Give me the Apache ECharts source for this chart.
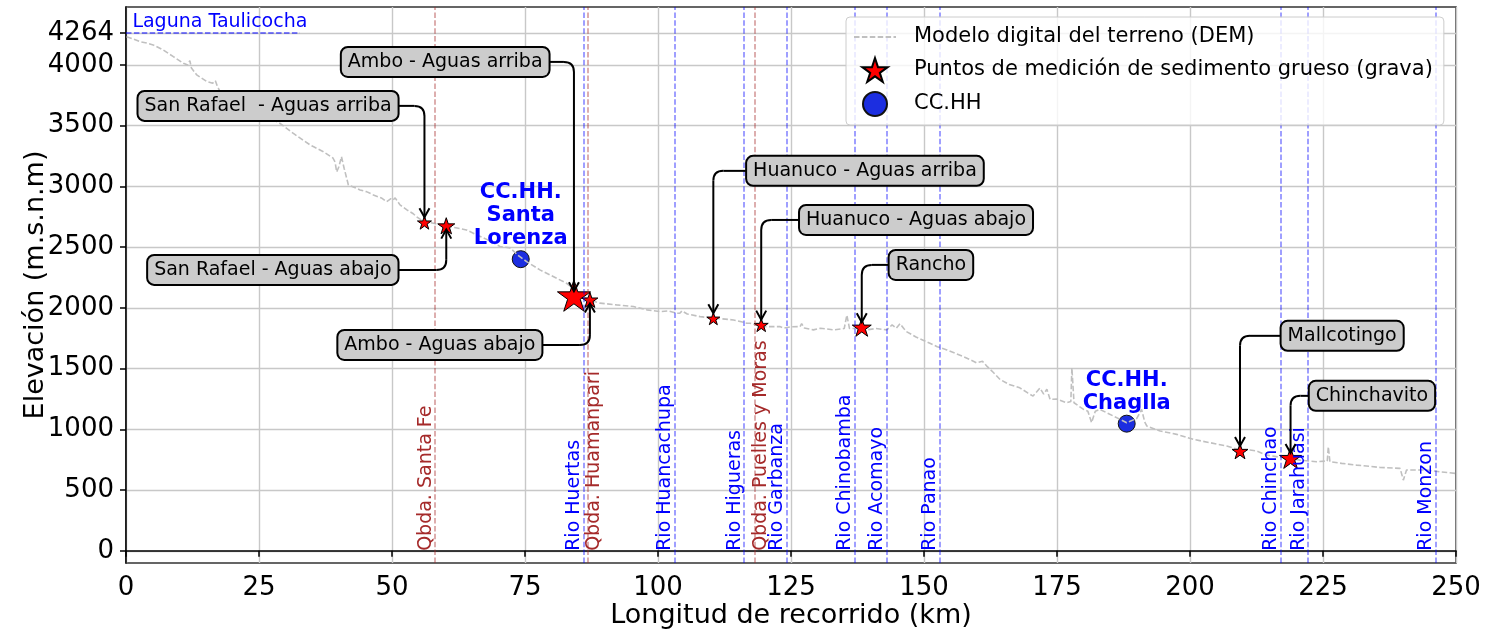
<!DOCTYPE html>
<html><head><meta charset="utf-8">
<script src="https://cdn.jsdelivr.net/npm/echarts@6/dist/echarts.min.js"></script>
<style>html,body{margin:0;padding:0;background:#fff}#c{width:1489px;height:633px}</style>
</head><body><div id="c"></div>
<script>
// ---------------- DATA ----------------
const demKm = [0.1,1.3,2.6,3.9,5.1,7.0,8.9,10.8,11.6,12.0,12.3,13.3,15.2,16.3,16.8,17.2,17.7,20.0,23.0,26.0,28.9,31.4,33.0,34.6,35.2,37.1,38.9,39.3,39.6,40.0,40.5,41.0,41.8,42.5,44.0,45.2,46.5,48.0,49.0,49.8,50.2,50.6,51.5,52.8,54.0,54.6,55.9,57.8,60.0,62.0,64.0,65.9,68.0,70.3,72.2,73.5,75.3,77.8,80.3,82.8,85.0,87.0,89.1,92.2,95.4,97.9,100.4,102.0,103.5,104.1,104.5,105.5,107.9,110.4,112.0,114.2,116.7,117.3,119.2,120.4,122.9,123.6,125.0,126.7,127.0,127.5,129.2,130.5,133.0,135.0,135.5,136.0,137.5,139.2,141.0,143.0,144.0,144.8,145.5,146.2,146.7,148.5,151.1,152.5,154.3,157.4,159.9,161.0,161.8,163.0,164.3,166.0,168.0,169.5,170.5,171.8,172.5,173.1,173.7,175.0,176.8,177.6,177.8,178.0,178.2,180.0,180.8,181.5,182.2,183.1,185.6,188.1,190.0,190.9,191.5,191.9,194.4,197.5,200.6,203.8,206.9,209.4,211.3,212.5,214.4,217.0,220.7,223.8,225.8,226.0,226.3,228.5,231.3,235.7,239.5,240.1,240.7,244.5,247.0,250.0];
const demElev = [4233,4215,4192,4180,4165,4123,4068,4014,4000,4035,3975,3918,3863,3850,3870,3820,3780,3720,3650,3585,3520,3438,3390,3342,3328,3286,3234,3200,3120,3160,3245,3150,3012,3000,2971,2957,2930,2905,2875,2900,2889,2905,2848,2807,2775,2751,2712,2697,2675,2660,2642,2601,2560,2505,2494,2440,2381,2313,2258,2203,2130,2065,2039,2025,2011,1984,1970,1975,1956,1956,1975,1950,1928,1915,1910,1901,1874,1874,1852,1846,1846,1833,1845,1846,1870,1835,1819,1833,1819,1830,1940,1830,1830,1819,1830,1819,1860,1833,1870,1830,1805,1760,1709,1680,1654,1599,1548,1560,1521,1470,1411,1370,1342,1300,1274,1340,1290,1330,1247,1250,1219,1230,1507,1500,1219,1164,1150,1055,1150,1164,1110,1055,1090,1164,1060,1027,986,959,918,890,863,830,830,822,788,770,747,734,740,857,734,720,706,687,679,582,665,665,651,637];

const pointNames = ['San Rafael  - Aguas arriba','San Rafael - Aguas abajo','Ambo - Aguas arriba','Ambo - Aguas abajo','Huanuco - Aguas arriba','Huanuco - Aguas abajo','Rancho','Mallcotingo','Chinchavito'];
const pointKm   = [56.1, 60.2, 84.2, 87.2, 110.4, 119.4, 138.3, 209.4, 218.9];
const pointElev = [2697, 2669, 2088, 2060, 1907, 1854, 1833, 814, 756];

const hydroNames = ['CC.HH.\nSanta\nLorenza', 'CC.HH.\nChaglla'];
const hydroKm   = [74.2, 188.1];
const hydroElev = [2401, 1047];

const riverNames = ['Rio Huertas','Rio Huancachupa','Rio Higueras','Rio Garbanza','Rio Chinobamba','Rio Acomayo','Rio Panao','Rio Chinchao','Rio Jarahuasi','Rio Monzon'];
const riverKm    = [86.1, 103.2, 116.2, 124.2, 137.0, 143.0, 153.0, 217.1, 222.2, 246.2];
const qbdaNames  = ['Qbda. Santa Fe','Qbda. Huamanpari','Qbda. Puelles y Moras'];
const qbdaKm     = [58.1, 86.8, 118.1];

const lagunaName = 'Laguna Taulicocha';
const lagunaElev = 4264;
const lagunaKm   = [0, 32.7];

const xTicks = [0,25,50,75,100,125,150,175,200,225,250];
const yTicks = [0,500,1000,1500,2000,2500,3000,3500,4000,4264];

const seriesNames = ['Modelo digital del terreno (DEM)','Puntos de medición de sedimento grueso (grava)','CC.HH'];
const axisNames = ['Longitud de recorrido (km)','Elevación (m.s.n.m)'];

// ---------------- LAYOUT / STYLE ----------------
const starSizes = [14, 17, 33, 16, 13, 14, 19, 16, 22];
const annotPos = [[26.7,3663],[27.6,2313],[60.0,4025],[59.0,1695],[138.9,3128],[148.5,2724],[151.3,2354],[228.6,1770],[234.2,1276]];
const qbdaSide = ['left','right','right'];
const hydroLabelOffset = 75;
const lagunaLabelKm = 1.2;
const FONT = '"DejaVu Sans", "Liberation Sans", sans-serif';
const STAR = 'path://M100,0 L122.45,69.1 L195.1,69.1 L136.3,111.8 L158.8,180.9 L100,138.2 L41.2,180.9 L63.7,111.8 L4.9,69.1 L77.55,69.1 Z';

const demData = demKm.map((k,i)=>[k, demElev[i]]);
const starData = pointKm.map((k,i)=>({value:[k, pointElev[i]], symbolSize: starSizes[i], symbolOffset:[0, -0.05*starSizes[i]]}));
const hydroData = hydroKm.map((k,i)=>[k, hydroElev[i]]);

const vLines = [];
riverKm.forEach(k=>vLines.push({xAxis:k, lineStyle:{color:'rgba(0,0,255,0.5)'}}));
qbdaKm.forEach(k=>vLines.push({xAxis:k, lineStyle:{color:'rgba(165,42,42,0.5)'}}));

const option = {
  animation: false,
  textStyle: {fontFamily: FONT},
  grid: {left:126, right:33, top:7, bottom:70, outerBoundsMode:'none', containLabel:false,
         show:true, borderColor:'#333', borderWidth:1.5, backgroundColor:'transparent'},
  legend: {
    data: [
      {name: seriesNames[0], itemStyle:{opacity:0}},
      {name: seriesNames[1]},
      {name: seriesNames[2]}
    ],
    orient:'vertical', left:846, top:17,
    padding:[8,11,8,7], itemGap:8, itemWidth:42, itemHeight:24,
    backgroundColor:'rgba(255,255,255,0.8)', borderColor:'#cccccc', borderWidth:1, borderRadius:4,
    textStyle:{fontSize:21, color:'#000', fontFamily:FONT, lineHeight:24, padding:[0,0,0,13]},
    z: 20
  },
  xAxis: {
    type:'value', min:xTicks[0], max:xTicks[xTicks.length-1], interval:25,
    name: axisNames[0], nameLocation:'middle', nameGap:39, nameMoveOverlap:false,
    nameTextStyle:{fontSize:27, color:'#000', fontFamily:FONT},
    axisLine:{show:true, lineStyle:{color:'#000', width:1.5}},
    axisTick:{show:true, length:6, lineStyle:{color:'#000', width:1.5}},
    axisLabel:{fontSize:26, color:'#000', margin:12, fontFamily:FONT, formatter:(v)=>String(v)},
    splitLine:{show:true, lineStyle:{color:'#c8c8c8', width:1.4}}
  },
  yAxis: {
    type:'value', min:-100, max:4477,
    name: axisNames[1], nameLocation:'middle', nameGap:77, nameMoveOverlap:false,
    nameTextStyle:{fontSize:27, color:'#000', fontFamily:FONT},
    axisLine:{show:true, lineStyle:{color:'#000', width:1.5}},
    axisTick:{show:true, length:6, lineStyle:{color:'#000', width:1.5}, customValues: yTicks},
    axisLabel:{fontSize:26, color:'#000', margin:12, fontFamily:FONT, customValues: yTicks, formatter:(v)=>String(v)},
    splitLine:{show:true, lineStyle:{color:'#c8c8c8', width:1.4}}
  },
  series: [
    {
      name:'vlines', type:'line', data:[], z:1, silent:true,
      markLine:{
        silent:true, symbol:['none','none'], label:{show:false}, animation:false,
        lineStyle:{type:[5.5,2.4], width:1.5},
        data: vLines.concat([[
          {coord:[lagunaKm[0], lagunaElev], lineStyle:{color:'rgba(0,0,255,0.65)'}},
          {coord:[lagunaKm[1], lagunaElev]}
        ]])
      }
    },
    {
      name: seriesNames[2], type:'scatter', data: hydroData, z:2,
      symbol:'circle', symbolSize:17,
      itemStyle:{color:'#1c2ee0', borderColor:'#111', borderWidth:1, opacity:1}
    },
    {
      name: seriesNames[0], type:'line', data: demData, z:3,
      showSymbol:false, symbol:'none',
      lineStyle:{color:'#c0c0c0', width:1.6, type:[5.5,2.4]},
      itemStyle:{color:'#c0c0c0'}
    },
    {
      name: seriesNames[1], type:'scatter', data: starData, z:4,
      symbol: STAR, symbolKeepAspect:true,
      itemStyle:{color:'#ff0000', borderColor:'#000', borderWidth:1, opacity:1}
    }
  ]
};

const chart = echarts.init(document.getElementById('c'));
chart.setOption(option);

const toPx = (x,y) => chart.convertToPixel({gridIndex:0}, [x,y]);
const cv = document.createElement('canvas').getContext('2d');
function tw(t, font){ cv.font = font; return cv.measureText(t).width; }

const els = [];
// vertical labels
function vLabel(name, km, color, side){
  const p = toPx(km, 0);
  const right = side === 'right';
  els.push({type:'text', x: right ? p[0]-3 : p[0], y:p[1], rotation:Math.PI/2, z:6, silent:true,
    style:{text:name, fill:color, font:'19px '+FONT, align:'left', verticalAlign: right ? 'top' : 'bottom'}});
}
riverNames.forEach((n,i)=>vLabel(n, riverKm[i], '#0000ff', 'left'));
qbdaNames.forEach((n,i)=>vLabel(n, qbdaKm[i], '#a52a2a', qbdaSide[i]));

// laguna label
{
  const p = toPx(lagunaLabelKm, lagunaElev);
  els.push({type:'text', x:p[0], y:p[1]-11, z:6, silent:true,
    style:{text:lagunaName, fill:'#0000ff', font:'19px '+FONT, align:'left', verticalAlign:'middle'}});
}
// hydro labels
hydroNames.forEach((n,i)=>{
  const p = toPx(hydroKm[i], hydroElev[i] + hydroLabelOffset);
  els.push({type:'text', x:p[0], y:p[1], z:6, silent:true,
    style:{text:n, fill:'#0000ff', font:'bold 21px '+FONT, lineHeight:23, align:'center', verticalAlign:'bottom'}});
});

// annotations
const AF = '19px ' + FONT;
pointNames.forEach((n,i)=>{
  const t = toPx(annotPos[i][0], annotPos[i][1]);
  const p = toPx(pointKm[i], pointElev[i]);
  const w = tw(n, AF);
  const half = w/2 + 6 + 1;
  const sx = t[0] < p[0] ? t[0] + half : t[0] - half;
  const dir = p[1] > t[1] ? 1 : -1;   // 1: arrow goes down
  const tipY = dir === 1 ? p[1] - 6 : p[1] + 3;
  const r = 10;
  const hs = t[0] < p[0] ? 1 : -1;
  const ls = {stroke:'#000', lineWidth:2, fill:null};
  els.push({type:'polyline', z:7, silent:true, shape:{points:[[sx, t[1]], [p[0]-hs*r, t[1]]]}, style:ls});
  els.push({type:'bezierCurve', z:7, silent:true, shape:{x1:p[0]-hs*r, y1:t[1], cpx1:p[0], cpy1:t[1], x2:p[0], y2:t[1]+dir*r}, style:ls});
  els.push({type:'polyline', z:7, silent:true, shape:{points:[[p[0], t[1]+dir*r], [p[0], tipY]]}, style:ls});
  els.push({type:'polyline', z:7, silent:true, shape:{points:[[p[0]-5, tipY-dir*9], [p[0], tipY], [p[0]+5, tipY-dir*9]]}, style:ls});
  els.push({type:'text', x:t[0], y:t[1], z:8, silent:true,
    style:{text:n, font:AF, fill:'#000', align:'center', verticalAlign:'middle', lineHeight:22,
      backgroundColor:'#cccccc', borderColor:'#000', borderWidth:2, borderRadius:6, padding:[3,6]}});
});

chart.setOption({graphic:{elements:els}});
</script></body></html>
